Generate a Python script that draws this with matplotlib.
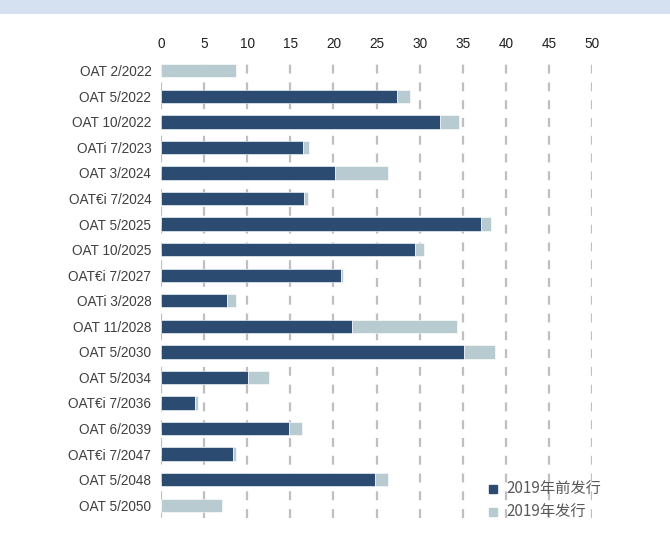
import matplotlib
matplotlib.use("Agg")
import matplotlib.pyplot as plt
from matplotlib.lines import Line2D
from matplotlib.patches import Rectangle

categories = ["OAT 2/2022", "OAT 5/2022", "OAT 10/2022", "OATi 7/2023", "OAT 3/2024",
              "OAT€i 7/2024", "OAT 5/2025", "OAT 10/2025", "OAT€i 7/2027", "OATi 3/2028",
              "OAT 11/2028", "OAT 5/2030", "OAT 5/2034", "OAT€i 7/2036", "OAT 6/2039",
              "OAT€i 7/2047", "OAT 5/2048", "OAT 5/2050"]
before_2019 = [0, 27.4, 32.4, 16.5, 20.2, 16.6, 37.1, 29.5, 20.9, 7.6,
               22.2, 35.1, 10.1, 4.0, 14.8, 8.4, 24.8, 0]
in_2019 = [8.7, 1.5, 2.2, 0.7, 6.1, 0.5, 1.2, 1.0, 0.2, 1.1,
           12.1, 3.6, 2.4, 0.3, 1.6, 0.3, 1.5, 7.1]
xticks = [0, 5, 10, 15, 20, 25, 30, 35, 40, 45, 50]
series_names = ["2019年前发行", "2019年发行"]

dark = "#2b4c70"
light = "#b8cbd0"
text_col = "#404040"

plt.rcParams['font.family'] = ['Liberation Sans', 'Noto Sans CJK SC', 'DejaVu Sans']

fig = plt.figure(figsize=(6.7, 5.47), dpi=100)
fig.patches.append(Rectangle((0, 1 - 14/547), 1, 14/547, transform=fig.transFigure,
                             facecolor="#d5e1f0", edgecolor="none", zorder=0))
ax = fig.add_axes([161/670, 1 - 518/547, (592-161)/670, (518-58)/547])

y = list(range(len(categories)))
ax.barh(y, before_2019, height=0.52, color=dark, edgecolor="white", linewidth=0.4, zorder=3)
ax.barh(y, in_2019, left=before_2019, height=0.52, color=light, edgecolor="white", linewidth=0.4, zorder=3)

ax.set_xlim(0, 50)
ax.set_ylim(len(categories) - 0.5, -0.5)
ax.set_yticks(y)
ax.set_yticklabels(categories, fontsize=9.8, color=text_col)
ax.set_xticks(xticks)
ax.set_xticklabels([str(t) for t in xticks], fontsize=9.8, color="#202020")
ax.xaxis.tick_top()
ax.tick_params(axis='y', length=0, pad=7)
ax.tick_params(axis='x', length=0, pad=5)
for s in ax.spines.values():
    s.set_visible(False)
ax.grid(axis='x', color="#bfbfbf", linestyle=(0, (4, 4)), linewidth=1.6, zorder=0)
ax.set_axisbelow(True)

handles = [Line2D([], [], marker='s', linestyle='none', markersize=5.5, color=dark),
           Line2D([], [], marker='s', linestyle='none', markersize=5.5, color=light)]
leg = ax.legend(handles, series_names, loc='lower right', bbox_to_anchor=(615/670, 1 - 535/547),
                bbox_transform=fig.transFigure, frameon=False, handlelength=0.8,
                handletextpad=0.5, labelspacing=0.4,
                prop={'family': ['Noto Sans CJK SC', 'DejaVu Sans'], 'size': 11})
for t in leg.get_texts():
    t.set_color("#595959")

fig.savefig("out.png", dpi=100)
